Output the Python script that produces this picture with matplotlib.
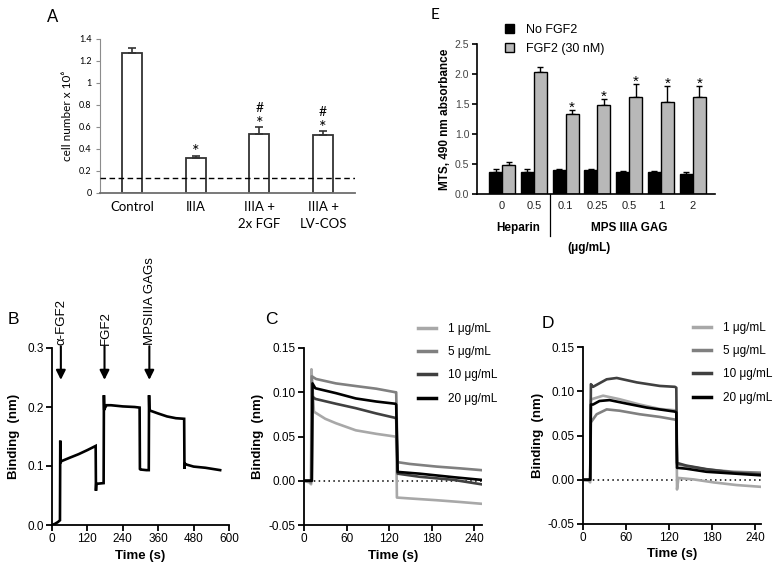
import numpy as np
import matplotlib
matplotlib.use('Agg')
import matplotlib.pyplot as plt
from matplotlib.lines import Line2D
from matplotlib.transforms import blended_transform_factory

# ---------------- data: panel A (cell number) ----------------
a_categories = ['Control', 'IIIA', 'IIIA +\n2x FGF', 'IIIA +\nLV-COS']
a_values = [1.27, 0.32, 0.54, 0.53]
a_errors = [0.05, 0.02, 0.06, 0.03]
a_stars = ['', '*', '*', '*']
a_hashes = ['', '', '#', '#']
a_baseline = 0.14

# ---------------- data: panel E (MTS absorbance) ----------------
e_groups = ['0', '0.5', '0.1', '0.25', '0.5', '1', '2']
e_no_fgf = [0.36, 0.37, 0.40, 0.40, 0.37, 0.37, 0.34]
e_no_fgf_err = [0.05, 0.04, 0.01, 0.01, 0.01, 0.01, 0.03]
e_fgf = [0.49, 2.04, 1.33, 1.48, 1.61, 1.53, 1.61]
e_fgf_err = [0.04, 0.08, 0.07, 0.10, 0.22, 0.27, 0.19]
e_stars = ['', '', '*', '*', '*', '*', '*']

# ---------------- data: panel B (sensorgram) ----------------
b_time = [0, 10, 20, 27, 28, 29, 31, 60, 90, 120, 148, 149, 150, 155, 175,
          176, 177, 179, 185, 200, 240, 280, 297, 298, 300, 320, 328, 329,
          330, 332, 360, 390, 420, 448, 449, 450, 452, 480, 520, 570]
b_value = [0, 0.002, 0.005, 0.008, 0.143, 0.105, 0.108, 0.114, 0.120, 0.127,
           0.134, 0.058, 0.069, 0.070, 0.071, 0.220, 0.195, 0.198, 0.203,
           0.203, 0.201, 0.200, 0.199, 0.095, 0.094, 0.093, 0.093, 0.220,
           0.196, 0.194, 0.189, 0.184, 0.181, 0.180, 0.095, 0.105, 0.103,
           0.099, 0.097, 0.093]
b_events = ['\u03b1-FGF2', 'FGF2', 'MPSIIIA GAGs']
b_event_time = [30, 178, 330]

# ---------------- data: panels C and D ----------------
conc_labels = ['1 \u03bcg/mL', '5 \u03bcg/mL', '10 \u03bcg/mL', '20 \u03bcg/mL']
conc_colors = ['#a8a8a8', '#808080', '#404040', '#000000']

c_t1 = [0, 8, 10, 10.5, 14, 30, 45, 73, 102, 128, 130, 131, 149, 187, 220, 250]
c_v1 = [0, -0.002, -0.004, 0.126, 0.078, 0.070, 0.065, 0.057, 0.053, 0.050,
        0.049, -0.019, -0.020, -0.022, -0.024, -0.026]
c_t5 = [0, 8, 10, 11, 17, 45, 73, 102, 129, 130, 132, 149, 187, 220, 250]
c_v5 = [0, 0, -0.002, 0.118, 0.115, 0.110, 0.107, 0.104, 0.100, 0.100, 0.021,
        0.019, 0.016, 0.014, 0.012]
c_t10 = [0, 9, 11, 12, 16, 45, 73, 102, 129, 130, 132, 163, 211, 250]
c_v10 = [0, 0, 0, 0.095, 0.0925, 0.087, 0.082, 0.076, 0.071, 0.070, 0.008,
         0.0045, 0.001, -0.004]
c_t20 = [0, 9, 11, 12, 16, 45, 73, 102, 129, 130, 132, 163, 211, 250]
c_v20 = [0, 0, 0, 0.110, 0.1045, 0.099, 0.093, 0.0895, 0.087, 0.086, 0.010,
         0.008, 0.004, 0.001]

d_t1 = [0, 8, 10, 11, 12, 28, 51, 79, 107, 128, 130, 131, 133, 154, 182, 214, 248]
d_v1 = [0, -0.001, -0.003, 0.090, 0.091, 0.095, 0.091, 0.085, 0.080, 0.0785,
        0.078, -0.011, 0.002, 0.0004, -0.003, -0.006, -0.008]
d_t5 = [0, 9, 10, 11, 12, 19, 33, 51, 79, 107, 128, 130, 131, 144, 172, 210, 248]
d_v5 = [0, 0, 0, 0.066, 0.066, 0.074, 0.0795, 0.078, 0.074, 0.071, 0.068,
        0.067, 0.0175, 0.0155, 0.0117, 0.009, 0.008]
d_t10 = [0, 9, 10, 11, 14, 33, 47, 75, 107, 128, 130, 131, 144, 172, 210, 248]
d_v10 = [0, 0, 0, 0.108, 0.105, 0.1135, 0.115, 0.110, 0.106, 0.105, 0.104,
         0.019, 0.016, 0.012, 0.008, 0.006]
d_t20 = [0, 9, 10, 11, 14, 23, 37, 61, 89, 128, 130, 131, 144, 172, 210, 248]
d_v20 = [0, 0, 0, 0.085, 0.085, 0.089, 0.090, 0.086, 0.0815, 0.077, 0.076,
         0.0135, 0.0125, 0.009, 0.007, 0.005]

W, H = 784, 573
ARIAL = ['Liberation Sans', 'DejaVu Sans']
CALIBRI = ['Lato', 'DejaVu Sans']


def box(left, top, right, bottom):
    """pixel box -> figure fraction rect"""
    return [left / W, 1 - bottom / H, (right - left) / W, (bottom - top) / H]


def gp_axes(ax):
    # GraphPad style axes: only left and bottom, black
    for s in ['top', 'right']:
        ax.spines[s].set_visible(False)
    for s in ['left', 'bottom']:
        ax.spines[s].set_linewidth(1.3)
    ax.tick_params(direction='out', length=4, width=1.3, labelsize=8.5, pad=2)
    for lab in ax.get_xticklabels() + ax.get_yticklabels():
        lab.set_family(ARIAL)


def panel_a(fig):
    ax = fig.add_axes(box(100, 39, 355, 193))
    x = np.arange(len(a_categories))
    ax.bar(x, a_values, width=0.31, color='white', edgecolor='#333333',
           linewidth=1.3, zorder=2)
    ax.errorbar(x, a_values, yerr=[np.zeros(len(x)), a_errors], fmt='none',
                ecolor='#333333', elinewidth=1.2, capsize=3, capthick=1.2, zorder=3)
    ax.axhline(a_baseline, color='black', lw=1.0, ls=(0, (4, 2.5)), zorder=4)
    for i in range(len(x)):
        top = a_values[i] + a_errors[i]
        if a_stars[i]:
            ax.text(x[i], top - 0.015, a_stars[i], ha='center', va='baseline',
                    fontsize=13, family=CALIBRI)
        if a_hashes[i]:
            ax.text(x[i], top + 0.14, a_hashes[i], ha='center', va='baseline',
                    fontsize=10, family=CALIBRI)
    ax.set_xlim(-0.5, 3.5)
    ax.set_ylim(0, 1.4)
    ax.set_yticks(np.arange(0, 1.41, 0.2))
    ax.set_yticklabels([f'{v:g}' for v in np.arange(0, 1.41, 0.2)])
    ax.set_xticks(x)
    ax.set_xticklabels(a_categories, family=CALIBRI, fontsize=9.5,
                       linespacing=1.5, va='top')
    for s in ['top', 'right']:
        ax.spines[s].set_visible(False)
    ax.spines['left'].set_color('#8c8c8c')
    ax.spines['bottom'].set_color('#6e6e6e')
    ax.spines['bottom'].set_linewidth(1.3)
    ax.tick_params(axis='y', length=3, color='#8c8c8c', labelsize=6.5, pad=3)
    ax.tick_params(axis='x', length=0, pad=6)
    for lab in ax.get_yticklabels():
        lab.set_family(CALIBRI)
    ax.set_ylabel('cell number x 10\u2076', family=CALIBRI, fontsize=8.5, labelpad=4)


def panel_e(fig):
    ax = fig.add_axes(box(477, 44, 715, 194))
    x = np.arange(len(e_groups))
    w = 0.41
    ax.bar(x - w / 2, e_no_fgf, width=w, color='black', edgecolor='black',
           linewidth=1, label='No FGF2', zorder=2)
    ax.bar(x + w / 2, e_fgf, width=w, color='#b8b8b8', edgecolor='black',
           linewidth=1, label='FGF2 (30 nM)', zorder=2)
    ax.errorbar(x - w / 2, e_no_fgf, yerr=[np.zeros(len(x)), e_no_fgf_err],
                fmt='none', ecolor='black', elinewidth=1, capsize=2.5, zorder=1)
    ax.errorbar(x + w / 2, e_fgf, yerr=[np.zeros(len(x)), e_fgf_err],
                fmt='none', ecolor='black', elinewidth=1, capsize=2.5, zorder=1)
    for i in range(len(x)):
        if e_stars[i]:
            ax.text(x[i] + w / 2, e_fgf[i] + e_fgf_err[i] - 0.03, e_stars[i],
                    ha='center', va='baseline', fontsize=11, family=ARIAL)
    ax.set_xlim(-0.79, 6.7)
    ax.set_ylim(0, 2.5)
    ax.set_yticks(np.arange(0, 2.51, 0.5))
    ax.set_yticklabels([f'{v:.1f}' for v in np.arange(0, 2.51, 0.5)])
    ax.set_xticks(x)
    ax.set_xticklabels(e_groups)
    for s in ['top', 'right']:
        ax.spines[s].set_visible(False)
    for s in ['left', 'bottom']:
        ax.spines[s].set_linewidth(1.2)
    ax.tick_params(axis='y', length=3.5, width=1.2, labelsize=7.5, pad=2,
                   labelcolor='#444444')
    ax.tick_params(axis='x', length=0, labelsize=8, pad=5, labelcolor='#222222')
    for lab in ax.get_xticklabels() + ax.get_yticklabels():
        lab.set_family(ARIAL)
    ax.set_ylabel('MTS, 490 nm absorbance', family=ARIAL, fontsize=8.5,
                  fontweight='bold', labelpad=3)

    trans = blended_transform_factory(ax.transData, ax.transAxes)
    ax.plot([1.5, 1.5], [0, -0.28], color='black', lw=0.9, transform=trans,
            clip_on=False)
    ax.text(0.5, -0.225, 'Heparin', transform=trans, ha='center', va='center',
            fontsize=8.5, fontweight='bold', family=ARIAL)
    ax.text(4.0, -0.225, 'MPS IIIA GAG', transform=trans, ha='center',
            va='center', fontsize=8.5, fontweight='bold', family=ARIAL)
    ax.text(2.75, -0.36, '(\u03bcg/mL)', transform=trans, ha='center',
            va='center', fontsize=8.5, fontweight='bold', family=ARIAL)

    ax.legend(loc='upper left', bbox_to_anchor=(505 / W, 1 - 24 / H),
              bbox_transform=fig.transFigure, frameon=False,
              prop={'family': ARIAL, 'size': 9}, handlelength=0.7,
              handleheight=0.7, handletextpad=1.0, labelspacing=0.55,
              borderpad=0, borderaxespad=0)


def panel_b(fig):
    ax = fig.add_axes(box(52, 348, 229, 525))
    ax.plot(b_time, b_value, color='black', lw=1.9, solid_joinstyle='miter')
    ax.set_xlim(0, 600)
    ax.set_ylim(0, 0.3)
    ax.set_xticks(np.arange(0, 601, 120))
    ax.set_yticks([0, 0.1, 0.2, 0.3])
    ax.set_yticklabels(['0.0', '0.1', '0.2', '0.3'])
    gp_axes(ax)
    ax.set_xlabel('Time (s)', family=ARIAL, fontsize=9.5, fontweight='bold',
                  labelpad=3)
    ax.set_ylabel('Binding  (nm)', family=ARIAL, fontsize=9.5,
                  fontweight='bold', labelpad=5)
    for name, t in zip(b_events, b_event_time):
        ax.annotate('', xy=(t, 0.246), xytext=(t, 0.303),
                    arrowprops=dict(arrowstyle='-|>', color='black', lw=1.5,
                                    mutation_scale=14, shrinkA=0, shrinkB=0),
                    annotation_clip=False)
        ax.text(t + 3, 0.305, name, rotation=90, ha='center', va='bottom',
                fontsize=9.5, family=ARIAL, clip_on=False)


def panel_cd(fig, rect, series, xmax, show_label=True, legend_xy=(0, 0)):
    ax = fig.add_axes(rect)
    ax.axhline(0, color='black', lw=1.1, ls=(0, (1, 2.2)), zorder=1)
    handles = []
    for (t, v), lab, col in zip(series, conc_labels, conc_colors):
        ax.plot(t, v, color=col, lw=1.9, zorder=2)
        handles.append(Line2D([], [], color=col, lw=2.5, label=lab))
    ax.set_xlim(0, xmax)
    ax.set_ylim(-0.05, 0.15)
    ax.set_xticks(np.arange(0, 241, 60))
    ax.set_yticks(np.arange(-0.05, 0.151, 0.05))
    ax.set_yticklabels([f'{v:.2f}' for v in np.arange(-0.05, 0.151, 0.05)])
    gp_axes(ax)
    ax.set_xlabel('Time (s)', family=ARIAL, fontsize=9.5, fontweight='bold',
                  labelpad=3)
    if show_label:
        ax.set_ylabel('Binding  (nm)', family=ARIAL, fontsize=9.5,
                      fontweight='bold', labelpad=3)
    ax.legend(handles=handles, loc='upper left',
              bbox_to_anchor=(legend_xy[0] / W, 1 - legend_xy[1] / H),
              bbox_transform=fig.transFigure, frameon=False,
              prop={'family': ARIAL, 'size': 8.5}, handlelength=1.5,
              handletextpad=1.0, labelspacing=0.95, borderpad=0,
              borderaxespad=0)


def main():
    fig = plt.figure(figsize=(W / 100, H / 100), dpi=100)

    panel_a(fig)
    panel_e(fig)
    panel_b(fig)
    panel_cd(fig, box(304, 348, 482, 525),
             [(c_t1, c_v1), (c_t5, c_v5), (c_t10, c_v10), (c_t20, c_v20)],
             251, legend_xy=(418, 323))
    panel_cd(fig, box(583, 347, 761, 524),
             [(d_t1, d_v1), (d_t5, d_v5), (d_t10, d_v10), (d_t20, d_v20)],
             248, legend_xy=(693, 322))

    # panel letters
    fig.text(53 / W, 1 - 17 / H, 'A', ha='center', va='center', fontsize=12,
             family=CALIBRI)
    fig.text(435 / W, 1 - 15 / H, 'E', ha='center', va='center', fontsize=11,
             family=CALIBRI)
    fig.text(13 / W, 1 - 320 / H, 'B', ha='center', va='center', fontsize=12.5,
             family=ARIAL)
    fig.text(271 / W, 1 - 320 / H, 'C', ha='center', va='center', fontsize=12.5,
             family=ARIAL)
    fig.text(548 / W, 1 - 323 / H, 'D', ha='center', va='center', fontsize=12.5,
             family=ARIAL)

    fig.savefig('out.png', dpi=100)


if __name__ == '__main__':
    main()
